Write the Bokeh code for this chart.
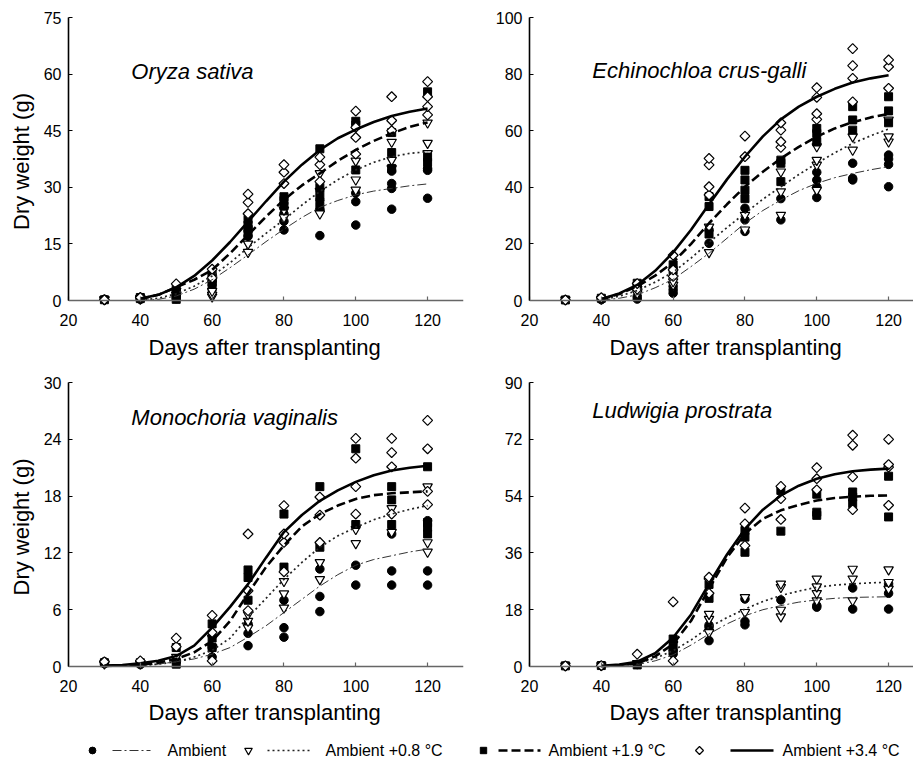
from bokeh.plotting import figure
from bokeh.models import Range1d, FixedTicker, Label, Title, ColumnDataSource, Span
from bokeh.layouts import column, row
from bokeh.embed import file_html
from bokeh.resources import INLINE
import math

# ---------------- data ----------------
DAYS = [30, 40, 50, 60, 70, 80, 90, 100, 110, 120]
FIT_DAYS = [40, 45, 50, 55, 60, 65, 70, 75, 80, 85, 90, 95, 100, 105, 110, 115, 120]
FIT_DAYS_MV = [30, 35] + FIT_DAYS
TREATMENTS = ["Ambient", "Ambient +0.8 \u00b0C", "Ambient +1.9 \u00b0C", "Ambient +3.4 \u00b0C"]
SPECIES = ["Oryza sativa", "Echinochloa crus-galli", "Monochoria vaginalis", "Ludwigia prostrata"]
Y_MAX = [75, 100, 30, 90]
Y_STEP = [15, 20, 6, 18]
X_TICKS = [20, 40, 60, 80, 100, 120]

# observed dry weight (g), replicates per day in DAYS
OS_AMB = [[0.2, 0.3, 0.2], [0.5, 0.8, 0.3], [0.5, 1.0, 1.5], [3.0, 4.0, 5.0], [17.0, 18.5, 19.5],
          [18.7, 21.0, 23.0], [17.2, 24.0, 26.6], [20.0, 26.2, 28.5], [24.2, 29.7, 31.0, 34.3], [27.1, 34.5, 35.0]]
OS_P08 = [[0.2, 0.3], [0.4, 0.6], [1.5, 2.5], [1.0, 1.5, 2.5], [12.8, 15.0], [22.0, 24.0],
          [23.0, 29.0, 33.7], [29.3, 32.0, 37.0], [35.0, 37.2, 42.0], [39.0, 41.7, 47.1]]
OS_P19 = [[0.2], [0.5, 0.8], [0.3, 2.0, 3.0], [5.0, 6.0, 7.0], [18.0, 20.0, 21.5], [25.0, 26.5, 27.5],
          [25.0, 28.0, 30.0, 40.2], [34.6, 46.5, 47.5], [35.0, 39.2, 44.5], [36.6, 38.0, 55.3]]
OS_P34 = [[0.2], [0.8], [4.4], [6.0, 8.3], [23.0, 26.0, 28.2], [31.0, 34.0, 36.0], [31.5, 36.0, 38.0],
          [38.8, 43.2, 45.9, 50.2], [45.0, 47.7, 54.0], [49.2, 51.4, 54.0, 58.0]]

EC_AMB = [[0.2], [0.3, 0.6], [0.5, 1.5], [2.6, 3.8, 5.0], [20.2, 25.0], [24.4, 28.5, 32.6], [28.5, 36.0],
          [36.4, 40.2, 42.6, 45.3], [42.6, 43.2, 48.5], [40.2, 48.1, 50.0, 51.4]]
EC_P08 = [[0.2], [0.5], [2.5, 4.0], [5.5, 6.7], [17.0, 26.0], [25.0, 30.2], [30.2, 38.5, 45.5],
          [39.0, 47.9, 49.6, 54.4], [53.2, 57.9], [56.1, 57.9, 63.8]]
EC_P19 = [[0.2], [0.8], [5.0, 6.1], [10.6, 12.6], [23.5, 33.2, 36.7], [36.0, 39.0, 42.6, 46.0],
          [42.0, 48.5, 49.6], [56.0, 59.0, 60.8], [60.2, 63.8, 68.5], [62.8, 67.0, 72.0]]
EC_P34 = [[0.2], [1.0], [4.0, 6.0], [8.5, 10.8, 16.0], [37.3, 40.2, 47.9, 50.2], [50.8, 58.1],
          [54.1, 56.1, 60.2, 62.8], [64.0, 66.0, 71.8, 75.2], [70.2, 78.5, 83.0, 89.0], [75.0, 82.6, 85.0]]

MV_AMB = [[0.3, 0.5], [0.2, 0.4], [0.5, 0.7], [1.0, 2.0], [2.2, 3.5, 4.5], [3.1, 4.1, 7.0],
          [5.8, 7.4, 10.3], [8.6, 10.7], [8.6, 10.1, 14.0], [8.6, 10.1, 15.4]]
MV_P08 = [[0.3], [0.3], [1.0], [2.0, 3.0], [4.1, 4.8, 5.5], [6.2, 7.7, 9.0], [9.2, 11.0],
          [13.0, 14.5], [14.2, 16.7], [12.1, 13.1, 19.0]]
MV_P19 = [[0.4], [0.4], [0.25, 2.0], [2.0, 3.0, 4.5], [7.0, 9.4, 10.2], [10.5, 16.1], [12.6, 19.0],
          [15.0, 23.0], [15.0, 17.6, 19.0], [14.0, 14.7, 15.2, 21.1]]
MV_P34 = [[0.5], [0.6], [2.1, 3.0], [0.6, 3.6, 5.4], [5.9, 8.0, 14.0], [10.0, 13.1, 14.0, 17.0],
          [13.1, 16.0, 17.9], [16.1, 19.0, 22.0, 24.1], [16.1, 21.1, 22.6, 24.1], [17.1, 18.5, 23.0, 26.0]]

LP_AMB = [[0.2], [0.3], [0.7], [4.0, 5.0], [8.2, 12.4, 13.1], [13.2, 14.3, 21.4], [21.1],
          [18.8, 19.3], [18.2, 24.9], [18.2, 23.2, 26.2]]
LP_P08 = [[0.2], [0.3], [1.0], [7.0], [10.8, 15.0, 16.6], [17.2, 21.9], [15.8, 17.9, 25.1, 26.2],
          [20.9, 23.2, 25.3, 27.8], [20.9, 27.8, 30.9], [24.6, 26.7, 30.7]]
LP_P19 = [[0.2], [0.3], [0.5], [6.0, 8.7], [21.6, 26.0], [36.2, 41.0, 43.1], [42.9, 55.8],
          [47.9, 48.9, 54.6], [51.6, 53.7, 55.3], [47.4, 60.3]]
LP_P34 = [[0.2], [0.3], [3.9], [1.8, 20.5], [23.2, 27.8, 28.3], [38.3, 45.2, 50.2], [46.6, 53.2, 57.1],
          [56.0, 59.5, 63.0], [49.7, 60.1, 70.1, 73.3], [51.1, 63.2, 64.0, 72.0]]

# fitted curves
OS_FIT_AMB = [0.0, 0.3, 1.2, 3.0, 5.5, 8.7, 12.1, 15.6, 18.9, 22.0, 24.7, 26.5, 28.0, 29.0, 29.7, 30.4, 30.9]
OS_FIT_P08 = [0.1, 0.6, 1.8, 3.8, 6.5, 10.0, 14.0, 17.8, 21.4, 25.3, 28.9, 32.0, 34.6, 36.6, 38.1, 39.0, 39.4]
OS_FIT_P19 = [0.4, 1.5, 3.5, 5.5, 8.1, 12.5, 17.4, 22.2, 26.7, 30.5, 33.7, 37.0, 39.9, 42.3, 44.3, 46.0, 47.2]
OS_FIT_P34 = [0.5, 1.5, 3.5, 6.5, 10.6, 15.5, 20.9, 26.3, 31.5, 36.0, 39.9, 43.0, 45.3, 47.3, 48.9, 50.0, 50.9]

EC_FIT_AMB = [0.1, 0.8, 2.0, 4.5, 7.5, 12.0, 16.7, 22.0, 27.3, 31.8, 35.5, 38.8, 41.4, 43.4, 44.9, 46.2, 47.3]
EC_FIT_P08 = [0.2, 1.5, 3.5, 6.5, 10.0, 15.0, 20.5, 25.8, 30.8, 35.8, 40.2, 44.5, 48.5, 52.2, 55.5, 58.2, 60.6]
EC_FIT_P19 = [0.5, 2.3, 5.0, 8.8, 13.5, 20.0, 27.3, 34.0, 40.2, 45.5, 50.2, 54.3, 57.9, 60.8, 63.0, 64.7, 65.9]
EC_FIT_P34 = [0.5, 2.5, 5.5, 10.5, 17.0, 25.0, 34.0, 42.8, 50.8, 58.0, 64.0, 68.5, 72.0, 74.8, 77.0, 78.5, 79.6]

MV_FIT_AMB = [0.02, 0.05, 0.1, 0.25, 0.5, 0.8, 1.3, 2.0, 3.1, 4.3, 5.7, 7.1, 8.5, 9.7, 10.7, 11.3, 11.7, 12.1, 12.4]
MV_FIT_P08 = [0.02, 0.05, 0.1, 0.25, 0.5, 1.0, 1.7, 3.0, 5.2, 7.2, 9.2, 11.0, 12.6, 13.8, 14.7, 15.5, 16.1, 16.6, 17.0]
MV_FIT_P19 = [0.05, 0.1, 0.2, 0.4, 0.8, 1.5, 2.7, 4.8, 7.7, 10.5, 12.8, 14.8, 16.1, 17.0, 17.7, 18.1, 18.3, 18.4, 18.5]
MV_FIT_P34 = [0.1, 0.15, 0.35, 0.6, 1.1, 2.2, 4.1, 6.3, 8.7, 11.5, 14.2, 16.0, 17.5, 18.6, 19.5, 20.2, 20.7, 21.0, 21.2]

LP_FIT_AMB = [0.1, 0.25, 0.6, 1.8, 3.7, 6.8, 10.3, 13.5, 16.1, 18.0, 19.3, 20.4, 21.1, 21.6, 21.9, 22.0, 22.1]
LP_FIT_P08 = [0.1, 0.4, 1.0, 2.6, 5.0, 8.4, 12.4, 15.5, 18.2, 20.6, 22.5, 23.9, 25.1, 25.8, 26.2, 26.5, 26.7]
LP_FIT_P19 = [0.1, 0.4, 1.0, 3.2, 7.1, 14.5, 24.6, 34.5, 42.1, 46.8, 49.5, 51.2, 52.6, 53.4, 53.8, 54.1, 54.2]
LP_FIT_P34 = [0.2, 0.6, 1.5, 4.2, 9.2, 16.5, 26.2, 35.5, 43.6, 49.7, 54.2, 57.3, 59.5, 60.9, 61.9, 62.4, 62.7]

OBS = [[OS_AMB, OS_P08, OS_P19, OS_P34], [EC_AMB, EC_P08, EC_P19, EC_P34],
       [MV_AMB, MV_P08, MV_P19, MV_P34], [LP_AMB, LP_P08, LP_P19, LP_P34]]
FITS = [[OS_FIT_AMB, OS_FIT_P08, OS_FIT_P19, OS_FIT_P34], [EC_FIT_AMB, EC_FIT_P08, EC_FIT_P19, EC_FIT_P34],
        [MV_FIT_AMB, MV_FIT_P08, MV_FIT_P19, MV_FIT_P34], [LP_FIT_AMB, LP_FIT_P08, LP_FIT_P19, LP_FIT_P34]]
FIT_X = [FIT_DAYS, FIT_DAYS, FIT_DAYS_MV, FIT_DAYS]

# ---------------- styles ----------------
FONT = "Liberation Sans"
MARKERS = [
    dict(marker="circle", size=8.5, fill_color="black", line_color="black", line_width=1),
    dict(marker="inverted_triangle", size=9.5, fill_color="white", line_color="black", line_width=1.2),
    dict(marker="square", size=8, fill_color="black", line_color="black", line_width=1),
    dict(marker="square", size=7, angle=math.pi / 4, fill_color="white", line_color="black", line_width=1.2),
]
LINES = [
    dict(line_color="#333333", line_width=1.0, line_dash="9 3 2 3"),
    dict(line_color="#222222", line_width=1.7, line_dash="2 3"),
    dict(line_color="black", line_width=2.6, line_dash="9 4"),
    dict(line_color="black", line_width=2.6),
]

PX_PER_DAY = 395 / 110.0
LEFT_W = 465          # width of left-column figures
TOTAL_W = 913
ZERO_PAD = 5          # pixels of frame below the y = 0 line


def make_panel(i, left_col, top_row):
    ymax = Y_MAX[i]
    span = 283 if top_row else 284
    pad = ymax * ZERO_PAD / span
    if left_col:
        b_left, frame_w = 68, 395
        b_right = LEFT_W - b_left - frame_w
    else:
        b_left = 529 - LEFT_W
        frame_w = TOTAL_W - LEFT_W - b_left
        b_right = 0
    x_end = 20 + frame_w / PX_PER_DAY
    if top_row:
        b_top, b_bot, t_standoff = 17, 370 - 17 - (span + ZERO_PAD), 8
    else:
        b_top, b_bot, t_standoff = 12, 368 - 12 - (span + ZERO_PAD), 6

    p = figure(output_backend="svg", toolbar_location=None,
               x_range=Range1d(20, x_end), y_range=Range1d(-pad, ymax),
               frame_width=frame_w, frame_height=span + ZERO_PAD,
               min_border_left=b_left, min_border_right=b_right,
               min_border_top=b_top, min_border_bottom=b_bot)
    p.grid.visible = False
    p.outline_line_color = None
    p.background_fill_color = "white"
    p.border_fill_color = "white"

    # observations
    for t in range(4):
        xs, ys = [], []
        for d, reps in zip(DAYS, OBS[i][t]):
            for v in reps:
                xs.append(d)
                ys.append(v)
        src = ColumnDataSource(dict(x=xs, y=ys))
        p.scatter("x", "y", source=src, **MARKERS[t])
    # fitted curves
    for t in range(4):
        src = ColumnDataSource(dict(x=FIT_X[i], y=FITS[i][t]))
        p.line("x", "y", source=src, **LINES[t])

    # x axis line at y = 0
    p.add_layout(Span(location=0, dimension="width", line_color="#666666", line_width=1.6))
    xa = p.xaxis[0]
    xa.ticker = FixedTicker(ticks=X_TICKS)
    xa.axis_line_color = None
    xa.major_tick_line_color = "#666666"
    xa.major_tick_line_width = 1.2
    xa.major_tick_in = ZERO_PAD + 4
    xa.major_tick_out = -ZERO_PAD
    xa.minor_tick_line_color = None
    xa.major_label_text_font = FONT
    xa.major_label_text_font_size = "16px"
    xa.major_label_text_color = "black"
    xa.major_label_standoff = 3 + ZERO_PAD

    ya = p.yaxis[0]
    ya.bounds = (0, ymax)
    ya.ticker = FixedTicker(ticks=list(range(0, ymax + 1, Y_STEP[i])))
    ya.axis_line_color = "black"
    ya.axis_line_width = 1.6
    ya.major_tick_line_color = "black"
    ya.major_tick_in = 4
    ya.major_tick_out = 0
    ya.minor_tick_line_color = None
    ya.major_label_text_font = FONT
    ya.major_label_text_font_size = "16px"
    ya.major_label_text_color = "black"
    ya.major_label_standoff = 7
    if left_col:
        ya.axis_label = "Dry weight (g)"
        ya.axis_label_text_font = FONT
        ya.axis_label_text_font_size = "22px"
        ya.axis_label_text_font_style = "normal"
        ya.axis_label_text_color = "black"
        ya.axis_label_standoff = 7

    p.add_layout(Title(text="Days after transplanting", align="left", offset=80,
                       text_font=FONT, text_font_size="22px", text_font_style="normal",
                       text_color="black", standoff=t_standoff), "below")

    # species name
    name_y = {0: 0.809, 1: 0.813, 2: 0.877, 3: 0.901}[i] * ymax
    p.add_layout(Label(x=37.5, y=name_y, text=SPECIES[i], text_font=FONT,
                       text_font_size="22px", text_font_style="italic",
                       text_baseline="middle", text_color="black"))
    return p


panels = [make_panel(0, True, True), make_panel(1, False, True),
          make_panel(2, True, False), make_panel(3, False, False)]

# ---------------- legend ----------------
leg = figure(output_backend="svg", toolbar_location=None, width=TOTAL_W, height=24,
             x_range=Range1d(0, TOTAL_W), y_range=Range1d(0, 24), min_border=0)
leg.axis.visible = False
leg.grid.visible = False
leg.outline_line_color = None
LEG_MARK_X = [92, 248, 483, 699]
LEG_LINE_X0 = [112, 267, 498, 730]
LEG_LINE_LEN = [38, 43, 42, 43]
LEG_TEXT_X = [167, 325, 548, 782]
for t in range(4):
    leg.scatter([LEG_MARK_X[t]], [12], **dict(MARKERS[t], size=MARKERS[t]["size"] * 0.8))
    leg.line([LEG_LINE_X0[t], LEG_LINE_X0[t] + LEG_LINE_LEN[t]], [12, 12], **LINES[t])
    leg.add_layout(Label(x=LEG_TEXT_X[t], y=12, text=TREATMENTS[t], text_font=FONT,
                         text_font_size="16px", text_baseline="middle", text_color="black"))

layout = column(row(panels[0], panels[1]), row(panels[2], panels[3]), leg)

open("out.html", "w").write(file_html(layout, INLINE))
